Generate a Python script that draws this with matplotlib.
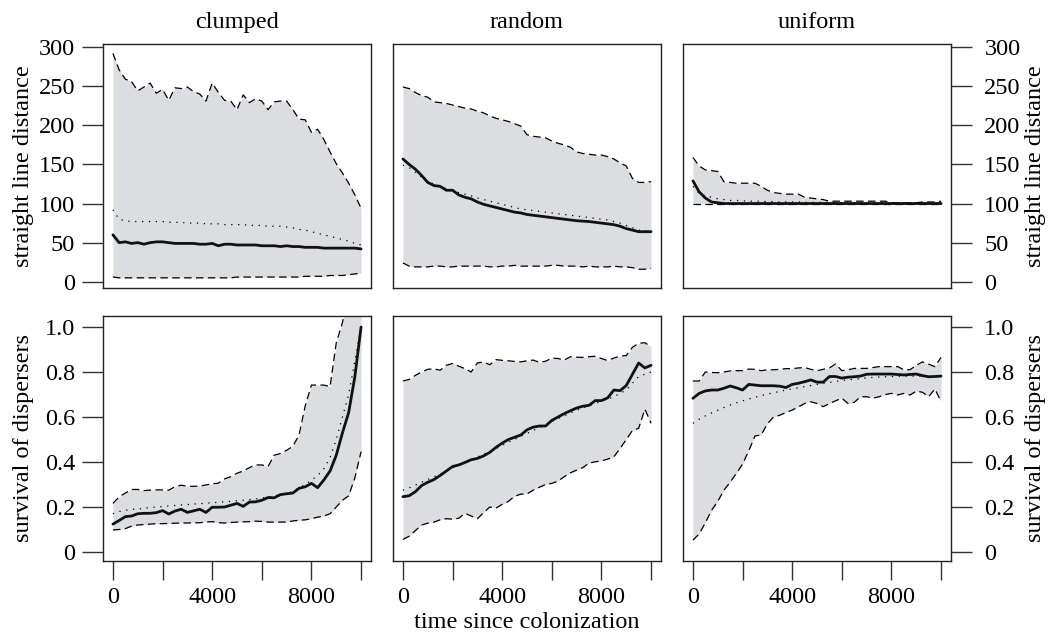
import matplotlib
matplotlib.use("Agg")
import matplotlib.pyplot as plt
import numpy as np

plt.rcParams['font.family'] = ['Liberation Serif', 'DejaVu Serif']

# time since colonization, sampled every 250
time = np.linspace(0, 10000, 41)

# ---- straight line distance ----
clumped_dist_hi = [292, 271, 259, 256, 244, 249, 254, 241, 246, 232, 248, 247, 249, 243, 240,
                   231, 254, 242, 232, 231, 220, 239, 229, 234, 231, 220, 230, 231, 231, 220,
                   208, 207, 191, 195, 182, 166, 151, 139, 126, 111, 94]
clumped_dist_lo = [6, 5, 5, 5, 5, 5, 5, 5, 5, 5, 5, 5, 5, 5, 5, 5, 5, 5, 5, 5, 6, 6, 6, 6, 6,
                   6, 6, 6, 6, 6, 6, 7, 7, 7, 7, 8, 8, 8, 9, 10, 11]
clumped_dist_mean = [92, 80, 78, 77, 77, 77, 77, 77, 77, 76, 76, 76, 75, 75, 75, 74, 74, 74, 73,
                     73, 73, 73, 72, 72, 72, 71, 71, 71, 70, 69, 67, 66, 64, 62, 60, 58, 56, 54,
                     52, 49, 47]
clumped_dist_med = [60, 50, 51, 49, 50, 48, 50, 51, 51, 50, 49, 49, 49, 49, 48, 48, 49, 46, 48,
                    48, 47, 47, 47, 47, 46, 46, 46, 45, 46, 45, 45, 44, 44, 44, 43, 43, 43, 43,
                    43, 43, 42]

random_dist_hi = [249, 247, 242, 238, 236, 230, 229, 228, 226, 224, 222, 221, 218, 216, 212, 209,
                  207, 205, 202, 199, 188, 186, 185, 184, 180, 177, 175, 172, 166, 164, 163, 162,
                  162, 160, 157, 152, 148, 132, 127, 127, 128]
random_dist_lo = [24, 20, 19, 19, 19, 20, 20, 19, 19, 20, 20, 20, 20, 20, 19, 19, 20, 20, 21, 20,
                  20, 20, 20, 20, 21, 21, 20, 20, 20, 19, 20, 19, 19, 19, 20, 19, 19, 18, 16, 16, 17]
random_dist_mean = [149, 146, 140, 134, 128, 125, 122, 119, 117, 114, 112, 110, 107, 105, 103, 101,
                    99, 97, 95, 93, 92, 91, 90, 89, 88, 87, 86, 85, 84, 83, 82, 81, 80, 79, 77,
                    75, 72, 69, 66, 65, 65]
random_dist_med = [157, 150, 144, 136, 127, 123, 122, 117, 117, 111, 108, 106, 102, 99, 97, 95, 93,
                   91, 89, 88, 86, 85, 84, 83, 82, 81, 80, 79, 78, 77.5, 77, 76, 75, 74, 73, 71,
                   68, 66, 64, 64, 64]

uniform_dist_hi = [159, 148, 143, 142, 141, 128, 127, 126, 126, 126, 126, 122, 117, 114, 113, 112,
                   112, 112, 108, 107, 106, 105, 103, 103, 103, 103, 103, 103, 103, 103, 103, 103,
                   101, 101, 101, 101, 101, 102, 102, 102, 103]
uniform_dist_lo = [100] * 41
uniform_dist_mean = [122, 113, 110, 108, 106, 105, 104, 104, 103.5, 103, 103, 103, 102.5, 102.5,
                     102, 102, 102, 102, 101.5, 101.5, 101.5, 101.5, 101.5, 101.5, 101, 101, 101,
                     101, 101, 101, 101, 100.5, 100.5, 100.5, 100.5, 100.5, 100.5, 100.5, 100.5,
                     100.5, 100.5]
uniform_dist_med = [129, 115, 107, 102, 101] + [100] * 36

# ---- survival of dispersers ----
clumped_surv_hi = [0.216, 0.245, 0.262, 0.278, 0.278, 0.273, 0.275, 0.276, 0.276, 0.275, 0.29,
                   0.297, 0.292, 0.292, 0.293, 0.298, 0.303, 0.306, 0.325, 0.335, 0.35, 0.36,
                   0.375, 0.387, 0.387, 0.38, 0.43, 0.438, 0.452, 0.47, 0.52, 0.65, 0.742, 0.742,
                   0.742, 0.735, 0.93, 1.02, 1.15, 1.2, 1.2]
clumped_surv_lo = [0.098, 0.1, 0.104, 0.115, 0.12, 0.122, 0.124, 0.126, 0.126, 0.127, 0.128, 0.129,
                   0.129, 0.13, 0.13, 0.133, 0.135, 0.13, 0.129, 0.131, 0.133, 0.134, 0.135, 0.137,
                   0.136, 0.133, 0.133, 0.133, 0.133, 0.138, 0.141, 0.143, 0.148, 0.155, 0.16,
                   0.17, 0.2, 0.23, 0.25, 0.33, 0.446]
clumped_surv_mean = [0.17, 0.18, 0.185, 0.19, 0.19, 0.195, 0.197, 0.2, 0.202, 0.205, 0.207, 0.209,
                     0.211, 0.213, 0.215, 0.217, 0.219, 0.221, 0.223, 0.225, 0.228, 0.23, 0.233,
                     0.236, 0.24, 0.244, 0.25, 0.255, 0.26, 0.27, 0.285, 0.3, 0.32, 0.34, 0.37,
                     0.42, 0.5, 0.6, 0.7, 0.85, 1.0]
clumped_surv_med = [0.124, 0.14, 0.157, 0.16, 0.17, 0.172, 0.172, 0.175, 0.184, 0.169, 0.182, 0.19,
                    0.176, 0.183, 0.19, 0.176, 0.199, 0.199, 0.2, 0.208, 0.216, 0.203, 0.222, 0.223,
                    0.23, 0.242, 0.241, 0.255, 0.259, 0.262, 0.283, 0.29, 0.305, 0.286, 0.32, 0.36,
                    0.43, 0.53, 0.62, 0.78, 1.0]

random_surv_hi = [0.76, 0.767, 0.785, 0.8, 0.812, 0.814, 0.808, 0.83, 0.838, 0.826, 0.815, 0.8,
                  0.84, 0.845, 0.832, 0.855, 0.852, 0.85, 0.847, 0.845, 0.85, 0.853, 0.843, 0.848,
                  0.862, 0.86, 0.853, 0.868, 0.866, 0.865, 0.868, 0.87, 0.86, 0.851, 0.862, 0.871,
                  0.873, 0.91, 0.928, 0.93, 0.913]
random_surv_lo = [0.056, 0.07, 0.095, 0.12, 0.128, 0.133, 0.143, 0.148, 0.146, 0.15, 0.172, 0.16,
                  0.148, 0.175, 0.2, 0.195, 0.212, 0.225, 0.248, 0.257, 0.258, 0.275, 0.288, 0.3,
                  0.305, 0.315, 0.335, 0.352, 0.364, 0.375, 0.395, 0.401, 0.405, 0.413, 0.423,
                  0.46, 0.5, 0.54, 0.55, 0.635, 0.572]
random_surv_mean = [0.275, 0.285, 0.297, 0.31, 0.322, 0.334, 0.346, 0.36, 0.373, 0.386, 0.398, 0.41,
                    0.422, 0.435, 0.447, 0.46, 0.474, 0.488, 0.5, 0.515, 0.527, 0.54, 0.553, 0.566,
                    0.58, 0.593, 0.605, 0.618, 0.63, 0.64, 0.65, 0.66, 0.67, 0.68, 0.69, 0.705,
                    0.72, 0.75, 0.78, 0.79, 0.8]
random_surv_med = [0.246, 0.25, 0.268, 0.295, 0.31, 0.322, 0.34, 0.36, 0.38, 0.387, 0.398, 0.41,
                   0.416, 0.427, 0.443, 0.465, 0.484, 0.5, 0.51, 0.52, 0.543, 0.555, 0.56, 0.56,
                   0.585, 0.6, 0.615, 0.628, 0.64, 0.648, 0.652, 0.673, 0.673, 0.685, 0.72, 0.717,
                   0.74, 0.79, 0.84, 0.818, 0.83]

uniform_surv_hi = [0.76, 0.76, 0.8, 0.798, 0.797, 0.8, 0.805, 0.806, 0.806, 0.813, 0.812, 0.806,
                   0.81, 0.81, 0.812, 0.815, 0.815, 0.818, 0.82, 0.812, 0.806, 0.812, 0.818, 0.836,
                   0.806, 0.81, 0.816, 0.816, 0.816, 0.82, 0.824, 0.824, 0.824, 0.824, 0.81, 0.81,
                   0.83, 0.845, 0.835, 0.824, 0.865]
uniform_surv_lo = [0.053, 0.08, 0.13, 0.185, 0.225, 0.275, 0.31, 0.35, 0.39, 0.45, 0.516, 0.52,
                   0.57, 0.6, 0.608, 0.62, 0.631, 0.645, 0.66, 0.668, 0.66, 0.646, 0.66, 0.672,
                   0.684, 0.66, 0.665, 0.69, 0.69, 0.684, 0.69, 0.7, 0.705, 0.698, 0.705, 0.698,
                   0.715, 0.71, 0.69, 0.725, 0.668]
uniform_surv_mean = [0.572, 0.59, 0.605, 0.618, 0.63, 0.642, 0.653, 0.663, 0.672, 0.68, 0.688,
                     0.695, 0.702, 0.708, 0.714, 0.72, 0.725, 0.73, 0.735, 0.74, 0.745, 0.75,
                     0.754, 0.758, 0.762, 0.765, 0.768, 0.771, 0.774, 0.776, 0.778, 0.779, 0.78,
                     0.781, 0.782, 0.782, 0.782, 0.782, 0.782, 0.782, 0.782]
uniform_surv_med = [0.683, 0.705, 0.716, 0.72, 0.72, 0.728, 0.738, 0.73, 0.72, 0.745, 0.742, 0.739,
                    0.739, 0.739, 0.737, 0.731, 0.745, 0.75, 0.757, 0.765, 0.755, 0.755, 0.78, 0.78,
                    0.773, 0.777, 0.779, 0.782, 0.79, 0.791, 0.791, 0.791, 0.791, 0.789, 0.787,
                    0.789, 0.791, 0.784, 0.779, 0.78, 0.782]

patterns = ['clumped', 'random', 'uniform']
dist_data = [
    (clumped_dist_lo, clumped_dist_hi, clumped_dist_mean, clumped_dist_med),
    (random_dist_lo, random_dist_hi, random_dist_mean, random_dist_med),
    (uniform_dist_lo, uniform_dist_hi, uniform_dist_mean, uniform_dist_med),
]
surv_data = [
    (clumped_surv_lo, clumped_surv_hi, clumped_surv_mean, clumped_surv_med),
    (random_surv_lo, random_surv_hi, random_surv_mean, random_surv_med),
    (uniform_surv_lo, uniform_surv_hi, uniform_surv_mean, uniform_surv_med),
]

dist_ticks = [0, 50, 100, 150, 200, 250, 300]
surv_ticks = [0, 0.2, 0.4, 0.6, 0.8, 1.0]
surv_ticklabels = ['0', '0.2', '0.4', '0.6', '0.8', '1.0']
x_ticks = [0, 2000, 4000, 6000, 8000, 10000]
x_ticklabels = ['0', '', '4000', '', '8000', '']

W, H = 1048, 635
fig = plt.figure(figsize=(W / 100, H / 100), dpi=100)

lefts = [103, 393, 683]
pw = 268
rows = [(44, 288), (316, 561)]

fs = 17.5
fill_col = '#dcdde0'


def draw(ax, lo, hi, mean, med):
    ax.fill_between(time, lo, hi, color=fill_col, linewidth=0)
    ax.plot(time, hi, color='black', lw=0.9, dashes=(6, 3.5))
    ax.plot(time, lo, color='black', lw=0.9, dashes=(6, 3.5))
    ax.plot(time, mean, color='black', lw=0.9, dashes=(1, 4.5))
    ax.plot(time, med, color='#111111', lw=2.0, solid_capstyle='round')


for r, (top, bot) in enumerate(rows):
    for c in range(3):
        ax = fig.add_axes([lefts[c] / W, 1 - bot / H, pw / W, (bot - top) / H])
        if r == 0:
            draw(ax, *dist_data[c])
            ax.set_ylim(-8, 304)
            ax.set_yticks(dist_ticks)
            ax.set_title(patterns[c], fontsize=fs, pad=11.5)
        else:
            draw(ax, *surv_data[c])
            ax.set_ylim(-0.04, 1.049)
            ax.set_yticks(surv_ticks)
            ax.set_yticklabels(surv_ticklabels)
        ax.set_xlim(-400, 10400)
        ax.set_xticks(x_ticks)
        if r == 1:
            ax.set_xticklabels(x_ticklabels)
            ax.tick_params(axis='x', direction='out', length=14, width=1, pad=5,
                           labelsize=fs, color='#333333')
        else:
            ax.tick_params(axis='x', bottom=False, labelbottom=False)
        if c == 0:
            ax.tick_params(axis='y', direction='out', length=15, width=1, pad=5,
                           labelsize=fs, color='#333333')
        elif c == 2:
            ax.tick_params(axis='y', left=False, labelleft=False, right=True, labelright=True,
                           direction='out', length=15, width=1, pad=9, labelsize=fs,
                           color='#333333')
        else:
            ax.tick_params(axis='y', left=False, labelleft=False)
        for s in ax.spines.values():
            s.set_linewidth(1.0)
            s.set_color('#222222')

# side labels
for (top, bot), lab in zip(rows, ['straight line distance', 'survival of dispersers']):
    yc = 1 - (top + bot) / 2 / H
    fig.text(24 / W, yc, lab, rotation=90, ha='center', va='center', fontsize=fs)
    fig.text(1036 / W, yc, lab, rotation=90, ha='center', va='center', fontsize=fs)

fig.text((393 + pw / 2) / W, 1 - 622 / H, 'time since colonization', ha='center', va='center',
         fontsize=fs)

fig.savefig('out.png', dpi=100)
